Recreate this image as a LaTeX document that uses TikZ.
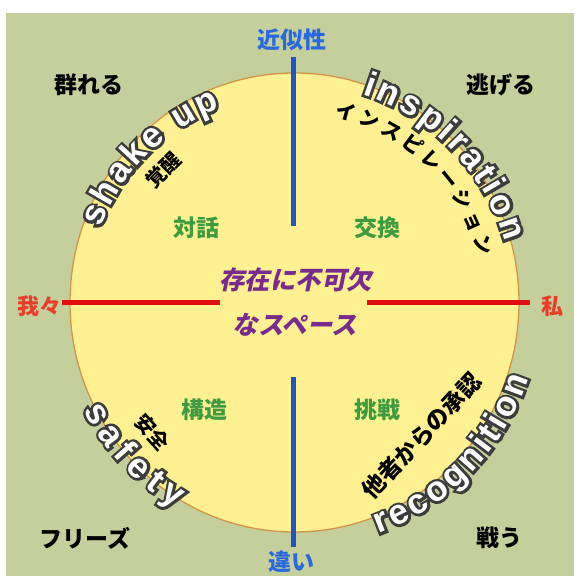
\documentclass[tikz,border=0pt]{standalone}
\usepackage{fontspec}
\setmainfont{Liberation Sans}
\newfontfamily\jp{Noto Sans CJK JP}
\newfontfamily\jpsl{Noto Sans CJK JP}[FakeSlant=0.2]
\newfontfamily\latinb{Liberation Sans}
\newfontfamily\latinstroke{Liberation Sans}[BoldFeatures={FakeBold=15}]
\usetikzlibrary{decorations.text}
\definecolor{bggreen}{RGB}{197,207,156}
\definecolor{discyellow}{RGB}{255,241,145}
\definecolor{discedge}{RGB}{214,146,70}
\definecolor{axisblue}{RGB}{30,85,200}
\definecolor{labblue}{RGB}{40,105,225}
\definecolor{axisred}{RGB}{225,15,15}
\definecolor{labred}{RGB}{232,62,42}
\definecolor{labgreen}{RGB}{62,155,62}
\definecolor{labpurple}{RGB}{122,42,142}
\definecolor{outl}{RGB}{60,60,60}
\newcommand\arctext[5]{%
  \path[decorate,decoration={text along path,text={|#5|#1},
    text align=fit to path}]
    (C) ++(#3:#2) arc[start angle=#3,end angle=#4,radius=#2];}
\newcommand\outlinedarc[4]{%
  \arctext{#1}{#2}{#3}{#4}{\latinstroke\bfseries\fontsize{35}{35}\selectfont\color{outl}}%
  \arctext{#1}{#2}{#3}{#4}{\latinb\bfseries\fontsize{35}{35}\selectfont\color{white}}}
\begin{document}
\begin{tikzpicture}[x=1pt,y=1pt,
  corner/.style={font={\jp\bfseries\fontsize{23}{23}\selectfont},text=black,inner sep=0pt},
  poleblue/.style={font={\jp\bfseries\fontsize{23}{23}\selectfont},text=labblue,inner sep=0pt},
  polered/.style={font={\jp\bfseries\fontsize{22}{22}\selectfont},text=labred,inner sep=0pt},
  quad/.style={font={\jp\bfseries\fontsize{23}{23}\selectfont},text=labgreen,inner sep=0pt},
  core/.style={font={\jpsl\bfseries\fontsize{25.5}{25.5}\selectfont},text=labpurple,inner sep=0pt},
  tilted/.style={font={\jp\bfseries\fontsize{20}{20}\selectfont},text=black,inner sep=0pt},
  disc/.style={fill=discyellow,draw=discedge,line width=1.3pt},
  vaxis/.style={draw=axisblue,line width=5pt},
  haxis/.style={draw=axisred,line width=5pt}]
\useasboundingbox (0,0) rectangle (574,576);
\fill[bggreen] (6,0) rectangle (574,563);
\coordinate (C) at (294.5,273.5);
\draw[disc] (C) ellipse [x radius=224.5, y radius=229.5];
% axes
\coordinate (vt1) at (293,519); \coordinate (vt2) at (293,350);
\coordinate (vb1) at (293,199); \coordinate (vb2) at (293,29);
\coordinate (hl1) at (62,273);  \coordinate (hl2) at (220,273);
\coordinate (hr1) at (367,273); \coordinate (hr2) at (530,273);
\draw[vaxis] (vt1) -- (vt2);
\draw[vaxis] (vb1) -- (vb2);
\draw[haxis] (hl1) -- (hl2);
\draw[haxis] (hr1) -- (hr2);
% pole labels
\node[poleblue] (near) at (292,536) {近似性};
\node[poleblue] (diff) at (291,14) {違い};
\node[polered] (we) at (39,270) {我々};
\node[polered] (me) at (552,270) {私};
% corner labels
\node[corner] (flock) at (89,491) {群れる};
\node[corner] (flee) at (501,491) {逃げる};
\node[corner] (freeze) at (85,38) {フリーズ};
\node[corner] (fight) at (499,38) {戦う};
% quadrant labels
\node[quad] (dialog) at (196,348) {対話};
\node[quad] (exch) at (377.5,348) {交換};
\node[quad] (struct) at (204,166) {構造};
\node[quad] (chall) at (377.5,166) {挑戦};
% core
\node[core] (core1) at (295.5,296) {存在に不可欠};
\node[core] (core2) at (295,251) {なスペース};
% tilted japanese
\node[tilted,rotate=45] (awake) at (163,406) {覚醒};
\node[tilted,rotate=-48] (safe) at (152.5,143.5) {安全};
\node[tilted,rotate=47,font={\jp\bfseries\fontsize{23}{23}\selectfont}] (recog) at (421.5,140) {他者からの承認};
% curved texts
\outlinedarc{shake up}{208}{159}{111}
\outlinedarc{inspiration}{219}{72}{16}
\outlinedarc{safety}{237}{207}{240}
\outlinedarc{recognition}{246}{290}{342}
\path[decorate,decoration={text along path,
  text={|\jp\bfseries\fontsize{20}{20}\selectfont|インスピレーション},
  text align=fit to path}]
  (C) ++(78:190) arc[start angle=78,end angle=14,radius=190];
\end{tikzpicture}
\end{document}
